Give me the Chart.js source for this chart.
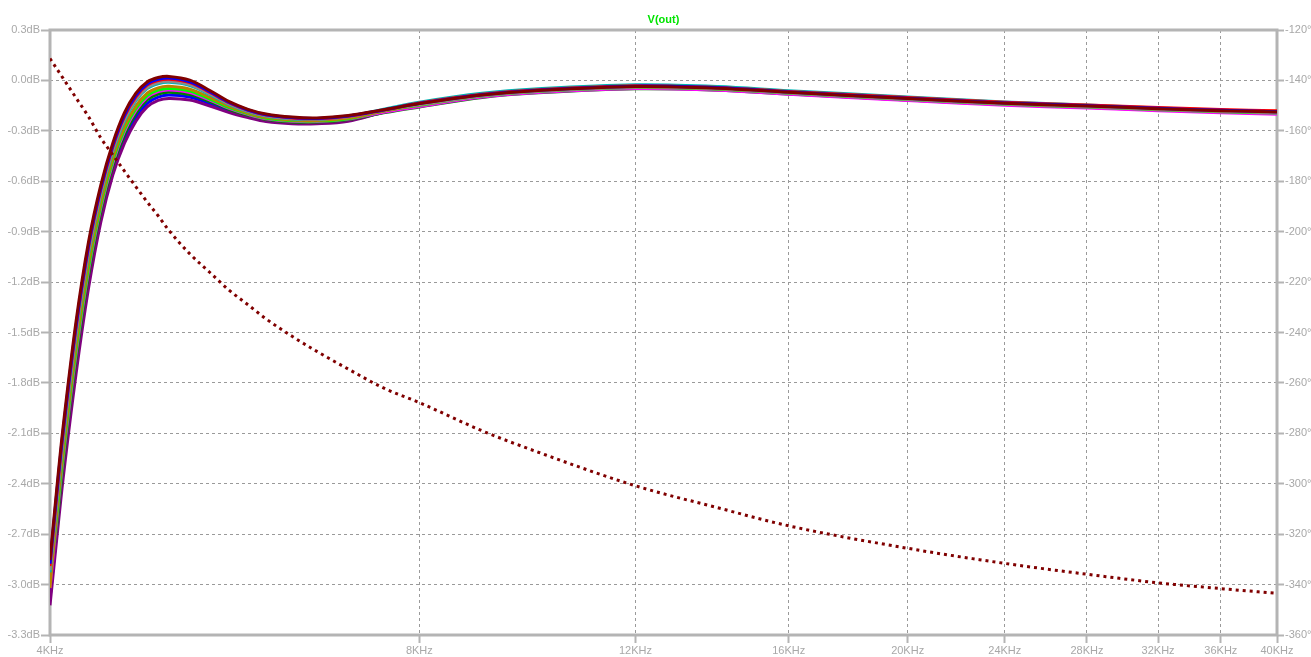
<!DOCTYPE html>
<html>
<head>
<meta charset="utf-8">
<title>V(out)</title>
<script src="https://cdn.jsdelivr.net/npm/chart.js@4.4.1/dist/chart.umd.min.js"></script>
<style>
  html, body { margin: 0; padding: 0; background: #ffffff; }
  #plot { display: block; }
</style>
</head>
<body>
<canvas id="plot" width="1311" height="657"></canvas>
<script>
// AC sweep of V(out): 11 stepped magnitude runs (dB, left axis) + phase (deg, right axis)

const freqs = [4000, 4050, 4100, 4200, 4300, 4400, 4500, 4600, 4700, 4800,
  4900, 5000, 5200, 5400, 5600, 5800, 6000, 6300, 6600, 7000,
  7500, 8000, 9000, 10000, 12000, 14000, 16000, 20000, 24000, 28000,
  32000, 36000, 40000];

const magMaroon = [-2.855, -2.438, -2.059, -1.436, -0.960, -0.623, -0.373, -0.192, -0.076, -0.009,
  0.017, 0.024, 0.002, -0.060, -0.126, -0.172, -0.200, -0.218, -0.223, -0.209,
  -0.173, -0.138, -0.087, -0.060, -0.036, -0.046, -0.071, -0.108, -0.136, -0.152,
  -0.168, -0.180, -0.188];
const magBlue = [-2.876, -2.462, -2.084, -1.461, -0.982, -0.641, -0.388, -0.206, -0.089, -0.021,
  0.006, 0.014, -0.008, -0.067, -0.131, -0.176, -0.204, -0.221, -0.226, -0.212,
  -0.174, -0.137, -0.085, -0.058, -0.034, -0.044, -0.069, -0.106, -0.134, -0.150,
  -0.166, -0.178, -0.186];
const magRed = [-2.890, -2.477, -2.099, -1.477, -0.996, -0.652, -0.398, -0.216, -0.098, -0.028,
  -0.001, 0.007, -0.013, -0.072, -0.134, -0.178, -0.206, -0.223, -0.228, -0.213,
  -0.175, -0.135, -0.083, -0.056, -0.032, -0.042, -0.066, -0.102, -0.130, -0.146,
  -0.161, -0.173, -0.181];
const magGray = [-2.914, -2.504, -2.127, -1.505, -1.021, -0.671, -0.415, -0.232, -0.113, -0.042,
  -0.013, -0.005, -0.024, -0.080, -0.140, -0.183, -0.210, -0.227, -0.231, -0.216,
  -0.176, -0.144, -0.091, -0.064, -0.040, -0.050, -0.075, -0.112, -0.140, -0.156,
  -0.172, -0.184, -0.192];
const magCyan = [-2.927, -2.518, -2.142, -1.520, -1.035, -0.682, -0.424, -0.241, -0.121, -0.049,
  -0.020, -0.011, -0.030, -0.085, -0.144, -0.185, -0.212, -0.229, -0.232, -0.214,
  -0.170, -0.130, -0.077, -0.050, -0.026, -0.036, -0.061, -0.098, -0.128, -0.146,
  -0.164, -0.177, -0.187];
const magOlive = [-3.020, -2.572, -2.198, -1.576, -1.084, -0.722, -0.459, -0.273, -0.151, -0.076,
  -0.044, -0.035, -0.052, -0.101, -0.155, -0.194, -0.220, -0.236, -0.239, -0.224,
  -0.180, -0.145, -0.090, -0.063, -0.039, -0.049, -0.074, -0.111, -0.139, -0.155,
  -0.171, -0.183, -0.191];
const magLime = [-2.970, -2.602, -2.228, -1.608, -1.112, -0.744, -0.478, -0.292, -0.167, -0.091,
  -0.058, -0.048, -0.063, -0.111, -0.162, -0.199, -0.225, -0.240, -0.242, -0.228,
  -0.181, -0.148, -0.093, -0.066, -0.042, -0.052, -0.077, -0.114, -0.142, -0.158,
  -0.174, -0.186, -0.194];
const magMagenta = [-3.021, -2.623, -2.250, -1.629, -1.131, -0.759, -0.491, -0.304, -0.179, -0.101,
  -0.067, -0.057, -0.072, -0.117, -0.166, -0.202, -0.228, -0.243, -0.245, -0.230,
  -0.188, -0.155, -0.099, -0.072, -0.048, -0.058, -0.083, -0.120, -0.148, -0.164,
  -0.180, -0.192, -0.201];
const magGreen = [-2.960, -2.653, -2.281, -1.661, -1.159, -0.781, -0.510, -0.322, -0.196, -0.116,
  -0.081, -0.070, -0.084, -0.126, -0.173, -0.207, -0.232, -0.247, -0.248, -0.233,
  -0.191, -0.158, -0.101, -0.074, -0.050, -0.058, -0.081, -0.116, -0.144, -0.159,
  -0.175, -0.187, -0.194];
const magBlue2 = [-3.083, -2.691, -2.321, -1.701, -1.195, -0.810, -0.535, -0.346, -0.217, -0.136,
  -0.099, -0.087, -0.099, -0.138, -0.181, -0.214, -0.238, -0.252, -0.253, -0.238,
  -0.186, -0.147, -0.089, -0.062, -0.038, -0.048, -0.073, -0.110, -0.138, -0.154,
  -0.170, -0.182, -0.190];
const magPurple = [-3.123, -2.736, -2.367, -1.748, -1.236, -0.843, -0.563, -0.373, -0.242, -0.158,
  -0.119, -0.107, -0.117, -0.152, -0.191, -0.221, -0.245, -0.258, -0.258, -0.243,
  -0.188, -0.154, -0.095, -0.068, -0.044, -0.054, -0.079, -0.116, -0.144, -0.160,
  -0.176, -0.188, -0.196];

const phaseDeg = [-131.3, -135.3, -139.2, -146.9, -154.4, -162.8, -169.5, -176.0, -182.2, -188.2,
  -193.7, -199.5, -208.8, -216.2, -223.3, -229.0, -234.6, -241.5, -247.5, -254.5,
  -262.3, -267.8, -279.0, -287.5, -300.8, -309.5, -316.7, -325.6, -331.6, -335.9,
  -339.3, -341.6, -343.5];

const freqTicks = [4000, 8000, 12000, 16000, 20000, 24000, 28000, 32000, 36000, 40000];
const freqTickLabels = ['4KHz', '8KHz', '12KHz', '16KHz', '20KHz', '24KHz', '28KHz', '32KHz', '36KHz', '40KHz'];
const dbTicks = [-3.3, -3.0, -2.7, -2.4, -2.1, -1.8, -1.5, -1.2, -0.9, -0.6, -0.3, 0.0, 0.3];
const dbTickLabels = ['-3.3dB', '-3.0dB', '-2.7dB', '-2.4dB', '-2.1dB', '-1.8dB', '-1.5dB',
  '-1.2dB', '-0.9dB', '-0.6dB', '-0.3dB', '0.0dB', '0.3dB'];
const degTicks = [-360, -340, -320, -300, -280, -260, -240, -220, -200, -180, -160, -140, -120];
const degTickLabels = ['-360°', '-340°', '-320°', '-300°', '-280°', '-260°', '-240°',
  '-220°', '-200°', '-180°', '-160°', '-140°', '-120°'];

// first entry ends up on top (Chart.js paints datasets last-to-first)
const runs = [
  { color: '#800000', values: magMaroon },
  { color: '#0000ff', values: magBlue },
  { color: '#ff0000', values: magRed },
  { color: '#8c8c8c', values: magGray },
  { color: '#00b4b4', values: magCyan },
  { color: '#b88400', values: magOlive },
  { color: '#00ff00', values: magLime },
  { color: '#ff00ff', values: magMagenta },
  { color: '#008000', values: magGreen },
  { color: '#800080', values: magPurple },
  { color: '#0000ff', values: magBlue2 }
];

const AXIS_GRAY = '#b4b4b4';
const LABEL_GRAY = '#a8a8a8';
const GRID_GRAY = '#9a9a9a';
const FONT_FAMILY = "'Liberation Sans', Arial, sans-serif";

const toPoints = vals => vals.map((v, i) => ({ x: freqs[i], y: v }));

const datasets = [{
  label: 'phase',
  data: toPoints(phaseDeg),
  yAxisID: 'y2',
  borderColor: '#800000',
  borderWidth: 3,
  borderDash: [3, 4],
  borderCapStyle: 'butt',
  cubicInterpolationMode: 'monotone'
}];
runs.forEach((r, i) => {
  datasets.push({
    label: 'run' + (i + 1),
    data: toPoints(r.values),
    yAxisID: 'y',
    borderColor: r.color,
    borderWidth: 3,
    tension: 0.35
  });
});

// plot frame under the traces, trace name centred above it
const frame = {
  id: 'frame',
  beforeDatasetsDraw(chart) {
    const { ctx, chartArea: a } = chart;
    ctx.save();
    ctx.strokeStyle = AXIS_GRAY;
    ctx.lineWidth = 3;
    ctx.strokeRect(a.left, a.top, a.right - a.left, a.bottom - a.top);
    ctx.restore();
  },
  afterDraw(chart) {
    const { ctx, chartArea: a } = chart;
    ctx.save();
    ctx.fillStyle = '#00e400';
    ctx.font = 'bold 11px ' + FONT_FAMILY;
    ctx.textAlign = 'center';
    ctx.textBaseline = 'middle';
    ctx.fillText('V(out)', (a.left + a.right) / 2, a.top - 10);
    ctx.restore();
  }
};

const tickFont = { family: FONT_FAMILY, size: 11 };

new Chart(document.getElementById('plot'), {
  type: 'line',
  data: { datasets },
  plugins: [frame],
  options: {
    responsive: false,
    devicePixelRatio: 1,
    animation: false,
    layout: { padding: { top: 30 } },
    elements: { point: { radius: 0 } },
    plugins: {
      legend: { display: false },
      tooltip: { enabled: false },
      title: { display: false }
    },
    scales: {
      x: {
        type: 'logarithmic',
        min: 4000,
        max: 40000,
        afterBuildTicks: s => { s.ticks = freqTicks.map(v => ({ value: v })); },
        afterFit: s => { s.height = 22; },
        ticks: {
          autoSkip: false, maxRotation: 0, padding: 1,
          color: LABEL_GRAY, font: tickFont,
          callback: (v, i) => freqTickLabels[i]
        },
        grid: { color: GRID_GRAY, lineWidth: 1, tickLength: 8, tickWidth: 2, tickColor: AXIS_GRAY, tickBorderDash: [] },
        border: { display: false, dash: [3, 3] }
      },
      y: {
        position: 'left',
        min: -3.3,
        max: 0.3,
        afterBuildTicks: s => { s.ticks = dbTicks.map(v => ({ value: v })); },
        afterFit: s => { s.width = 50; },
        ticks: {
          autoSkip: false, padding: 1,
          color: LABEL_GRAY, font: tickFont,
          callback: (v, i) => dbTickLabels[i]
        },
        grid: { color: GRID_GRAY, lineWidth: 1, tickLength: 9, tickWidth: 2, tickColor: AXIS_GRAY, tickBorderDash: [] },
        border: { display: false, dash: [3, 3] }
      },
      y2: {
        position: 'right',
        min: -360,
        max: -120,
        afterBuildTicks: s => { s.ticks = degTicks.map(v => ({ value: v })); },
        afterFit: s => { s.width = 34; },
        ticks: {
          autoSkip: false, padding: 1,
          color: LABEL_GRAY, font: tickFont,
          callback: (v, i) => degTickLabels[i]
        },
        grid: { drawOnChartArea: false, tickLength: 7, tickWidth: 2, tickColor: AXIS_GRAY, tickBorderDash: [] },
        border: { display: false }
      }
    }
  }
});
</script>
</body>
</html>
